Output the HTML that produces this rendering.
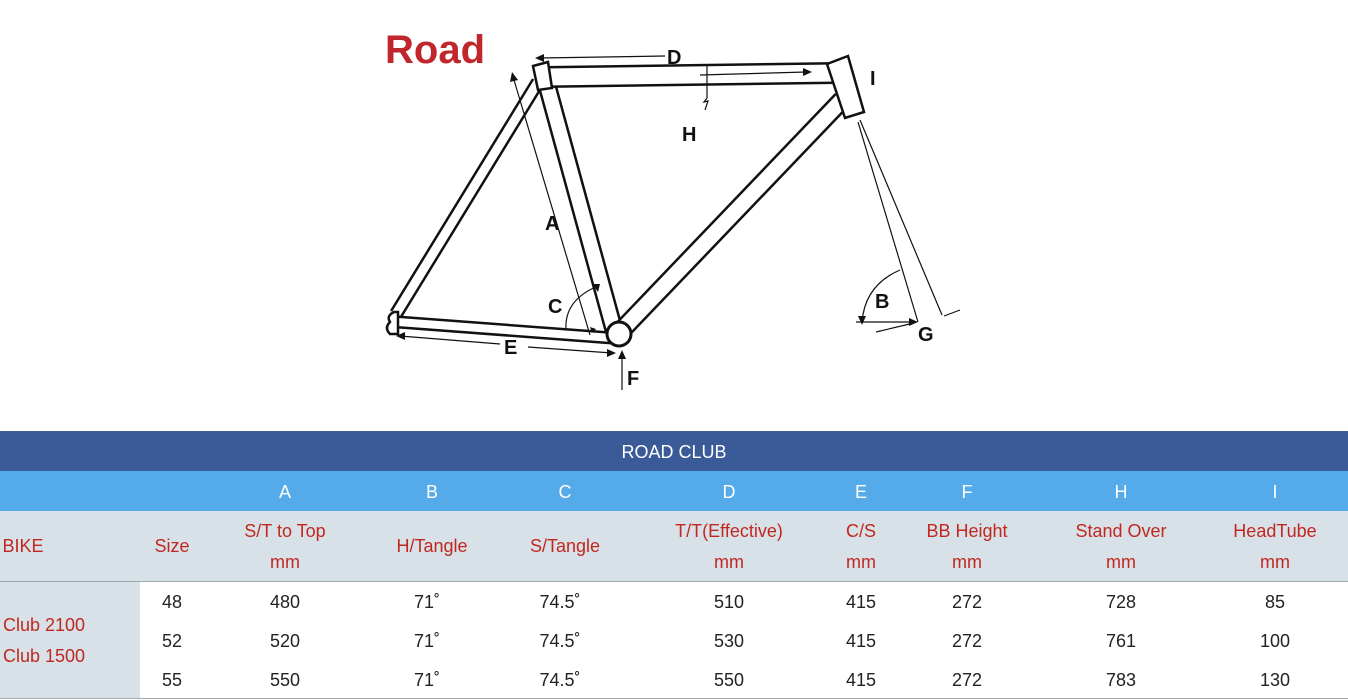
<!DOCTYPE html>
<html><head><meta charset="utf-8"><style>
body{margin:0;width:1348px;height:700px;background:#fff;position:relative;overflow:hidden;font-family:"Liberation Sans","Noto Sans CJK JP",sans-serif}
.t{position:absolute;transform:translateX(-50%);white-space:nowrap;font-size:18px;line-height:20px}
.r{color:#c0281f}.k{color:#222}.w{color:#fff}
.band{position:absolute;left:0;width:1348px}
</style></head><body>
<svg width="1348" height="430" style="position:absolute;left:0;top:0">
<text x="385" y="63" font-family="Liberation Sans, sans-serif" font-weight="bold" font-size="40" fill="#c0272d">Road</text>
<g stroke-linecap="butt" fill="none">
<!-- seat stay -->
<line x1="396" y1="314" x2="538" y2="82" stroke="#111" stroke-width="14"/>
<line x1="396" y1="314" x2="538" y2="82" stroke="#fff" stroke-width="9"/>
<!-- chain stay -->
<line x1="398" y1="322" x2="612" y2="338" stroke="#111" stroke-width="13"/>
<line x1="398" y1="322" x2="612" y2="338" stroke="#fff" stroke-width="8"/>
<!-- seat tube -->
<line x1="544" y1="74" x2="614" y2="330" stroke="#111" stroke-width="19"/>
<line x1="544" y1="74" x2="614" y2="330" stroke="#fff" stroke-width="14"/>
<!-- down tube -->
<line x1="842" y1="100" x2="620" y2="332" stroke="#111" stroke-width="20"/>
<line x1="842" y1="100" x2="620" y2="332" stroke="#fff" stroke-width="15"/>
<!-- top tube -->
<line x1="545" y1="77" x2="836" y2="73" stroke="#111" stroke-width="22"/>
<line x1="545" y1="77" x2="836" y2="73" stroke="#fff" stroke-width="17"/>
</g>
<polygon points="533,66 548,62 552,88 538,90" fill="#fff" stroke="#111" stroke-width="2.5"/>
<polygon points="827,64 848,56 864,112 845,118" fill="#fff" stroke="#111" stroke-width="2.5"/>
<circle cx="619" cy="334" r="12" fill="#fff" stroke="#111" stroke-width="3"/>
<path d="M394,312 q-8,4 -4,10 q-6,6 0,12 l8,0 0,-22z" fill="#fff" stroke="#111" stroke-width="2.5"/>
<g stroke="#111" stroke-width="1.2" fill="none">
<line x1="665" y1="56" x2="540" y2="58"/>
<line x1="700" y1="75" x2="806" y2="72"/>
<line x1="707" y1="66" x2="707" y2="98"/><path d="M707,98 l-3,4 4,-1 -3,9"/>
<line x1="590" y1="335" x2="514" y2="80"/>
<path d="M566,330 q-2,-30 32,-44"/>
<line x1="400" y1="336" x2="500" y2="344"/><line x1="528" y1="347" x2="612" y2="353"/>
<line x1="622" y1="390" x2="622" y2="352"/>
<line x1="858" y1="122" x2="918" y2="322"/><line x1="860" y1="120" x2="942" y2="315"/>
<path d="M900,270 q-35,15 -38,52"/>
<line x1="856" y1="322" x2="916" y2="322"/><line x1="876" y1="332" x2="914" y2="323"/>
<line x1="960" y1="310" x2="944" y2="316"/>
</g>
<g fill="#111">
<polygon points="535,58 544,54 544,62"/><polygon points="812,72 803,68 803,76"/>
<polygon points="512,72 510,82 518,80"/><polygon points="600,284 592,284 598,292"/>
<polygon points="396,336 405,332 405,340"/><polygon points="616,353 607,349 607,357"/>
<polygon points="622,350 618,359 626,359"/><polygon points="862,325 858,316 866,316"/>
<polygon points="918,322 909,318 909,326"/><polygon points="592,333 590,327 596,329"/>
</g>
<g font-family="Liberation Sans, sans-serif" font-weight="bold" font-size="20" fill="#111">
<text x="667" y="64">D</text><text x="870" y="85">I</text><text x="682" y="141">H</text>
<text x="545" y="230">A</text><text x="548" y="313">C</text><text x="504" y="354">E</text>
<text x="627" y="385">F</text><text x="875" y="308">B</text><text x="918" y="341">G</text>
</g>
</svg>
<div class="band" style="top:431px;height:40px;background:#3a5a98"></div>
<div class="band" style="top:471px;height:40px;background:#55aaea"></div>
<div class="band" style="top:511px;height:70px;background:#d9e1e8;border-bottom:1px solid #9aa"></div>
<div style="position:absolute;left:0;top:582px;width:140px;height:117px;background:#d9e1e8"></div>
<div class="band" style="top:698px;height:1px;background:#aaa"></div>
<div class="t w" style="left:674px;top:442px">ROAD CLUB</div>
<div class="t w" style="left:285px;top:482px">A</div><div class="t w" style="left:432px;top:482px">B</div><div class="t w" style="left:565px;top:482px">C</div><div class="t w" style="left:729px;top:482px">D</div><div class="t w" style="left:861px;top:482px">E</div><div class="t w" style="left:967px;top:482px">F</div><div class="t w" style="left:1121px;top:482px">H</div><div class="t w" style="left:1275px;top:482px">I</div>
<div class="t r" style="left:23px;top:536px">BIKE</div>
<div class="t r" style="left:172px;top:536px">Size</div>
<div class="t r" style="left:285px;top:521px">S/T to Top</div><div class="t r" style="left:285px;top:552px">mm</div>
<div class="t r" style="left:432px;top:536px">H/Tangle</div>
<div class="t r" style="left:565px;top:536px">S/Tangle</div>
<div class="t r" style="left:729px;top:521px">T/T(Effective)</div><div class="t r" style="left:729px;top:552px">mm</div>
<div class="t r" style="left:861px;top:521px">C/S</div><div class="t r" style="left:861px;top:552px">mm</div>
<div class="t r" style="left:967px;top:521px">BB Height</div><div class="t r" style="left:967px;top:552px">mm</div>
<div class="t r" style="left:1121px;top:521px">Stand Over</div><div class="t r" style="left:1121px;top:552px">mm</div>
<div class="t r" style="left:1275px;top:521px">HeadTube</div><div class="t r" style="left:1275px;top:552px">mm</div>
<div class="t r" style="left:44px;top:615px">Club 2100</div><div class="t r" style="left:44px;top:646px">Club 1500</div>
<div class="t k" style="left:172px;top:592px">48</div><div class="t k" style="left:285px;top:592px">480</div><div class="t k" style="left:427px;top:592px">71˚</div><div class="t k" style="left:560px;top:592px">74.5˚</div><div class="t k" style="left:729px;top:592px">510</div><div class="t k" style="left:861px;top:592px">415</div><div class="t k" style="left:967px;top:592px">272</div><div class="t k" style="left:1121px;top:592px">728</div><div class="t k" style="left:1275px;top:592px">85</div>
<div class="t k" style="left:172px;top:631px">52</div><div class="t k" style="left:285px;top:631px">520</div><div class="t k" style="left:427px;top:631px">71˚</div><div class="t k" style="left:560px;top:631px">74.5˚</div><div class="t k" style="left:729px;top:631px">530</div><div class="t k" style="left:861px;top:631px">415</div><div class="t k" style="left:967px;top:631px">272</div><div class="t k" style="left:1121px;top:631px">761</div><div class="t k" style="left:1275px;top:631px">100</div>
<div class="t k" style="left:172px;top:670px">55</div><div class="t k" style="left:285px;top:670px">550</div><div class="t k" style="left:427px;top:670px">71˚</div><div class="t k" style="left:560px;top:670px">74.5˚</div><div class="t k" style="left:729px;top:670px">550</div><div class="t k" style="left:861px;top:670px">415</div><div class="t k" style="left:967px;top:670px">272</div><div class="t k" style="left:1121px;top:670px">783</div><div class="t k" style="left:1275px;top:670px">130</div>
</body></html>
